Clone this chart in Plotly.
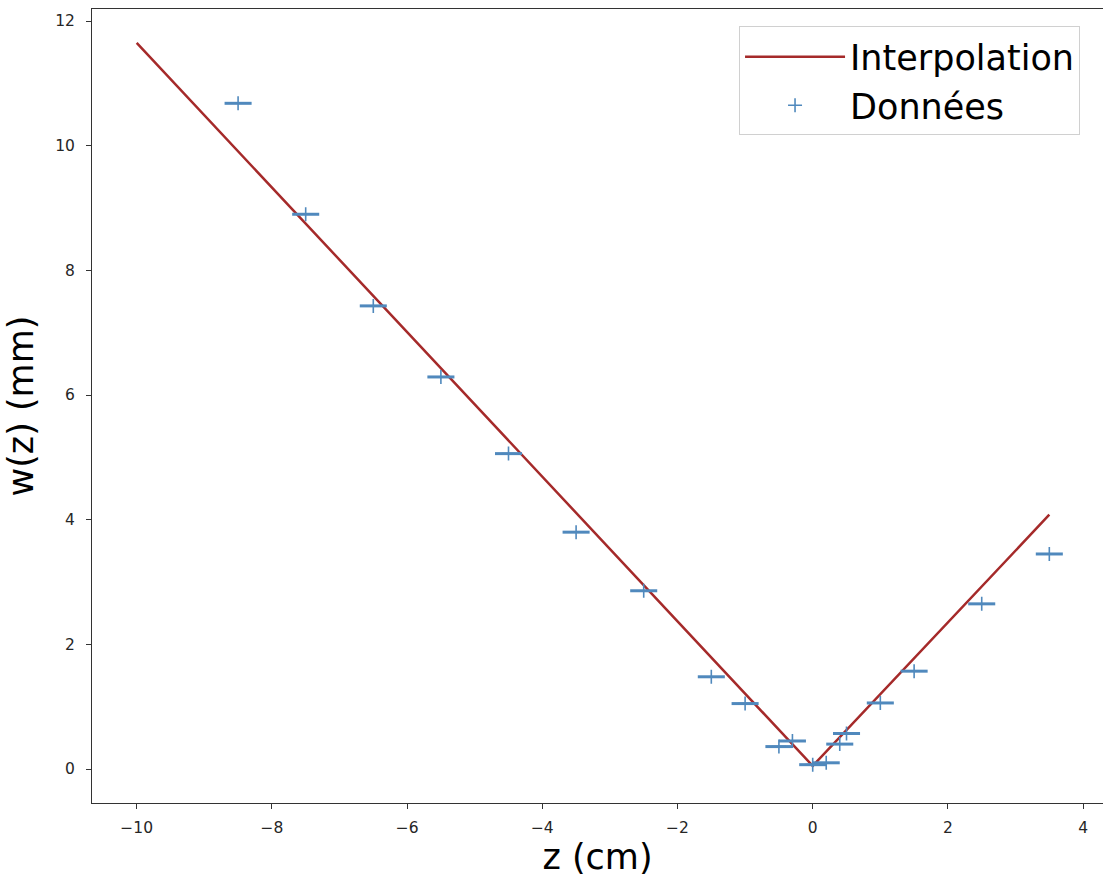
import plotly.graph_objects as go

# Measured beam radius w(z) versus position z
z_data = [-8.5, -7.5, -6.5, -5.5, -4.5, -3.5, -2.5, -1.5, -1.0, -0.5, -0.3,
          0.0, 0.2, 0.4, 0.5, 1.0, 1.5, 2.5, 3.5]
w_data = [10.68, 8.90, 7.43, 6.29, 5.06, 3.80, 2.86, 1.48, 1.05, 0.36, 0.45,
          0.07, 0.10, 0.40, 0.57, 1.06, 1.57, 2.65, 3.45]
z_err = [0.2] * len(z_data)

# Fitted curve
z_fit = [-10.0, 0.0, 3.5]
w_fit = [11.65, 0.05, 4.08]

x_ticks = [-10, -8, -6, -4, -2, 0, 2, 4]
y_ticks = [0, 2, 4, 6, 8, 10, 12]

BLUE = "#5089bd"
BROWN = "#a52a2a"
FONT = "DejaVu Sans"

fig = go.Figure()
fig.add_trace(go.Scatter(
    x=z_fit, y=w_fit, mode="lines", name="Interpolation",
    line=dict(color=BROWN, width=2.5),
))
fig.add_trace(go.Scatter(
    x=z_data, y=w_data, mode="markers", name="Données",
    marker=dict(symbol="cross-thin", size=10, line=dict(color=BLUE, width=1.6)),
    error_x=dict(type="data", array=z_err, color=BLUE, thickness=3, width=0),
))

fig.update_layout(
    width=1103, height=877,
    margin=dict(l=92, r=0, t=9, b=74),
    paper_bgcolor="white", plot_bgcolor="white",
    font=dict(family=FONT, color="#000000"),
    showlegend=True,
    legend=dict(
        x=0.640, y=0.978, xanchor="left", yanchor="top",
        font=dict(family=FONT, size=35, color="#000000"),
        bgcolor="rgba(255,255,255,0.8)",
        bordercolor="#d0d0d0", borderwidth=1,
        tracegroupgap=0, itemwidth=100,
    ),
    xaxis=dict(
        range=[-10.661, 4.294], tickvals=x_ticks,
        ticktext=[("\u2212" + str(-t)) if t < 0 else str(t) for t in x_ticks],
        showgrid=False, zeroline=False,
        showline=True, linecolor="#333333", linewidth=1, mirror=True,
        ticks="outside", ticklen=5, tickcolor="#333333", tickwidth=1,
        tickfont=dict(family=FONT, size=15.5, color="#262626"),
        ticklabelstandoff=5,
        title=dict(text="z (cm)", font=dict(family=FONT, size=35, color="#000000"),
                   standoff=6),
    ),
    yaxis=dict(
        range=[-0.545, 12.193], tickvals=y_ticks,
        showgrid=False, zeroline=False,
        showline=True, linecolor="#333333", linewidth=1, mirror=False,
        ticks="outside", ticklen=5, tickcolor="#333333", tickwidth=1,
        tickfont=dict(family=FONT, size=15.5, color="#262626"),
        ticklabelstandoff=8,
        title=dict(text="w(z) (mm)", font=dict(family=FONT, size=35, color="#000000"),
                   standoff=10),
    ),
)

fig.write_html("out.html")
